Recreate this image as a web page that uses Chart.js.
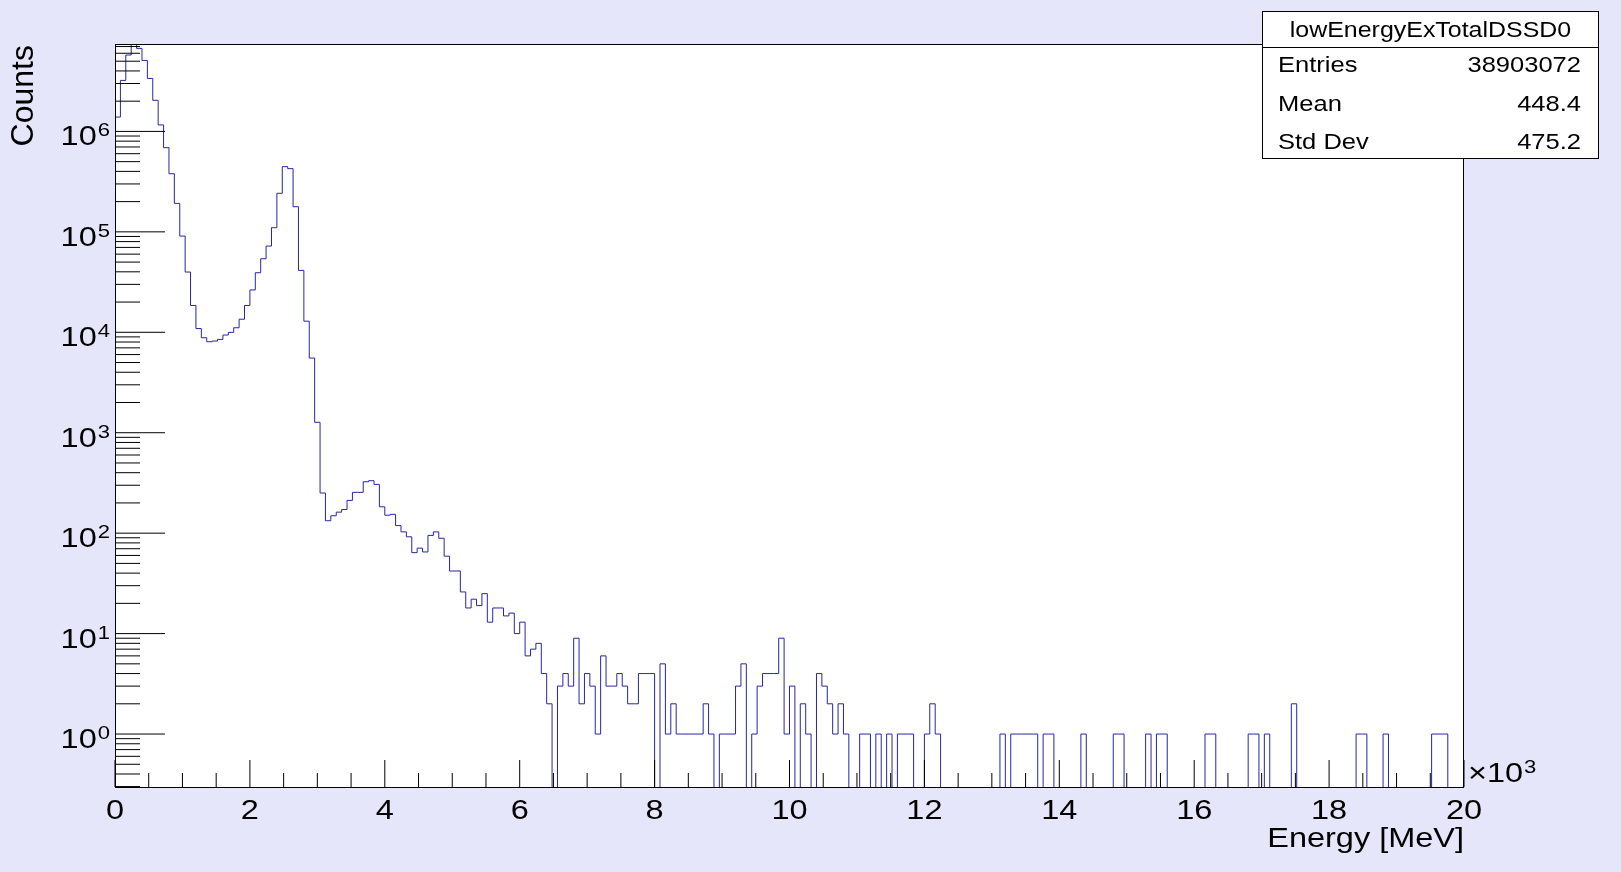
<!DOCTYPE html>
<html><head><meta charset="utf-8">
<script src="https://cdn.jsdelivr.net/npm/chart.js@4.4.1/dist/chart.umd.min.js"></script>
<style>html,body{margin:0;padding:0;background:#e6e6fa;overflow:hidden}canvas{display:block}</style>
</head><body>
<canvas id="c" width="1621" height="872"></canvas>
<script>
// ---------------- data ----------------
const histName = 'lowEnergyExTotalDSSD0';
const xTitle = 'Energy [MeV]';
const yTitle = 'Counts';
const xRangeKeV = [0, 20000];
const yRange = [0.297, 7.42e6];
// counts per 80 keV bin (250 bins, 0 - 20000 keV)
const counts = [
 1390000, 3220000, 5760000, 7360000, 6710000, 5090000, 3370000, 2040000, 1160000, 689000,
 379000, 192000, 90800, 39800, 18500, 10900, 8830, 8050, 8180, 8500,
 9390, 9980, 11100, 13500, 18500, 26400, 39200, 54000, 72200, 110000,
 242000, 446000, 426000, 178000, 41300, 12900, 5540, 1270, 251, 133,
 149, 162, 172, 212, 255, 255, 325, 333, 306, 183,
 151, 154, 119, 103, 92, 64, 71, 65, 95, 103,
 89, 59, 42, 42, 26, 18, 22, 19, 25, 13,
 18, 18, 15, 16, 10, 13, 6, 7, 8, 4,
 2, 0, 3, 4, 3, 9, 2, 4, 3, 1,
 6, 3, 3, 4, 3, 2, 2, 4, 4, 4,
 0, 5, 1, 2, 1, 1, 1, 1, 1, 2,
 1, 0, 1, 1, 1, 3, 5, 0, 1, 3,
 4, 4, 4, 9, 1, 3, 0, 2, 1, 0,
 4, 3, 2, 1, 2, 1, 0, 0, 1, 1,
 0, 1, 0, 1, 0, 1, 1, 1, 0, 0,
 1, 2, 1, 0, 0, 0, 0, 0, 0, 0,
 0, 0, 0, 0, 1, 0, 1, 1, 1, 1,
 1, 0, 1, 1, 0, 0, 0, 0, 0, 1,
 0, 0, 0, 0, 0, 1, 1, 0, 0, 0,
 0, 1, 0, 1, 1, 0, 0, 0, 0, 0,
 0, 0, 1, 1, 0, 0, 0, 0, 0, 0,
 1, 1, 0, 1, 0, 0, 0, 0, 2, 0,
 0, 0, 0, 0, 0, 0, 0, 0, 0, 0,
 1, 1, 0, 0, 0, 1, 0, 0, 0, 0,
 0, 0, 0, 0, 1, 1, 1, 0, 0, 0
];
const xMajorTicks = [0, 2000, 4000, 6000, 8000, 10000, 12000, 14000, 16000, 18000, 20000];
const xTickLabels = ['0', '2', '4', '6', '8', '10', '12', '14', '16', '18', '20'];
const yDecadeExponents = [0, 1, 2, 3, 4, 5, 6];
const statLabels = ['Entries', 'Mean', 'Std Dev'];
const statValues = ['38903072', '448.4', '475.2'];

// ---------------- styling ----------------
const FONT = '"Liberation Sans", Arial, Helvetica, sans-serif';
const SX = 1.16;          // horizontal text stretch seen in reference
const BG = '#e6e6fa';
const LINE = '#2626a6';

const nBins = counts.length;
const binW = (xRangeKeV[1] - xRangeKeV[0]) / nBins;
const points = counts.map((c, i) => ({ x: xRangeKeV[0] + i * binW, y: c > 0 ? c : 0.01 }));
points.push({ x: xRangeKeV[1], y: counts[nBins - 1] > 0 ? counts[nBins - 1] : 0.01 });

function txt(ctx, s, x, y, size, align, sx) {
  ctx.save();
  ctx.font = size + 'px ' + FONT;
  ctx.textAlign = align; ctx.textBaseline = 'alphabetic';
  ctx.fillStyle = '#000';
  ctx.translate(x, y); ctx.scale(sx === undefined ? SX : sx, 1);
  ctx.fillText(s, 0, 0);
  ctx.restore();
}
function tw(ctx, s, size) { ctx.font = size + 'px ' + FONT; return ctx.measureText(s).width * SX; }

const bgPlugin = {
  id: 'bg',
  beforeDraw(chart) {
    const { ctx, chartArea: a } = chart;
    ctx.save();
    ctx.fillStyle = BG; ctx.fillRect(0, 0, chart.width, chart.height);
    ctx.fillStyle = '#fff'; ctx.fillRect(a.left, a.top, a.right - a.left, a.bottom - a.top);
    ctx.restore();
  }
};

const axesPlugin = {
  id: 'rootAxes',
  afterDatasetsDraw(chart) {
    const { ctx, chartArea: a, scales: { x, y } } = chart;
    ctx.save();
    ctx.strokeStyle = '#000'; ctx.lineWidth = 1;
    // y ticks (log, inside)
    for (let e = -1; e <= 6; e++) {
      for (let m = 1; m <= 9; m++) {
        const v = m * Math.pow(10, e);
        if (v < yRange[0] * 0.999 || v > yRange[1]) continue;
        const py = y.getPixelForValue(v);
        const len = m === 1 ? 50 : 25;
        ctx.beginPath(); ctx.moveTo(a.left, py); ctx.lineTo(a.left + len, py); ctx.stroke();
      }
    }
    // x ticks
    for (let v = xRangeKeV[0]; v <= xRangeKeV[1]; v += 500) {
      const px = x.getPixelForValue(v);
      const len = xMajorTicks.includes(v) ? 27 : 14;
      ctx.beginPath(); ctx.moveTo(px, a.bottom); ctx.lineTo(px, a.bottom - len); ctx.stroke();
    }
    // frame
    ctx.strokeRect(a.left + 0.5, a.top + 0.5, a.right - a.left - 1, a.bottom - a.top);
    ctx.restore();

    // y labels 10^n
    yDecadeExponents.forEach(e => {
      const py = y.getPixelForValue(Math.pow(10, e));
      const sup = String(e);
      const supW = tw(ctx, sup, 19);
      const mainW = tw(ctx, '10', 28);
      const right = 110;
      txt(ctx, '10', right - supW - mainW - 1, py + 14, 28, 'left');
      txt(ctx, sup, right - supW, py + 5, 19, 'left');
    });
    // x labels
    xMajorTicks.forEach((v, i) => {
      txt(ctx, xTickLabels[i], x.getPixelForValue(v), 819, 28, 'center');
    });
    // x10^3
    const mW = tw(ctx, '\u00d710', 28);
    txt(ctx, '\u00d710', 1468, 782, 28, 'left');
    txt(ctx, '3', 1468 + mW + 1, 773, 19, 'left');
    // axis titles
    txt(ctx, xTitle, a.right, 847, 28, 'right');
    ctx.save();
    ctx.font = '32px ' + FONT; ctx.fillStyle = '#000';
    ctx.textAlign = 'right'; ctx.textBaseline = 'alphabetic';
    ctx.translate(33, 45); ctx.rotate(-Math.PI / 2);
    ctx.fillText(yTitle, 0, 0);
    ctx.restore();

    // stats box
    const bx = 1262.5, by = 11.5, bw = 336, bh = 147;
    ctx.save();
    ctx.fillStyle = '#fff'; ctx.fillRect(bx, by, bw, bh);
    ctx.strokeStyle = '#000'; ctx.lineWidth = 1; ctx.strokeRect(bx, by, bw, bh);
    ctx.beginPath(); ctx.moveTo(bx, 47.5); ctx.lineTo(bx + bw, 47.5); ctx.stroke();
    ctx.restore();
    txt(ctx, histName, bx + bw / 2, 37, 21.5, 'center');
    const rowY = [72, 111, 149];
    statLabels.forEach((l, i) => {
      txt(ctx, l, 1278, rowY[i], 22, 'left');
      txt(ctx, statValues[i], 1581, rowY[i], 22, 'right');
    });
  }
};

new Chart(document.getElementById('c'), {
  type: 'line',
  data: {
    datasets: [{
      label: histName,
      data: points,
      stepped: 'before',
      borderColor: LINE,
      borderWidth: 1,
      pointRadius: 0,
      fill: false,
      tension: 0
    }]
  },
  options: {
    responsive: false,
    animation: false,
    devicePixelRatio: 1,
    events: [],
    layout: { padding: { left: 115, top: 44, right: 157, bottom: 85 } },
    scales: {
      x: { type: 'linear', min: xRangeKeV[0], max: xRangeKeV[1], display: false },
      y: { type: 'logarithmic', min: yRange[0], max: yRange[1], display: false }
    },
    plugins: { legend: { display: false }, tooltip: { enabled: false } }
  },
  plugins: [bgPlugin, axesPlugin]
});
</script>
</body></html>
